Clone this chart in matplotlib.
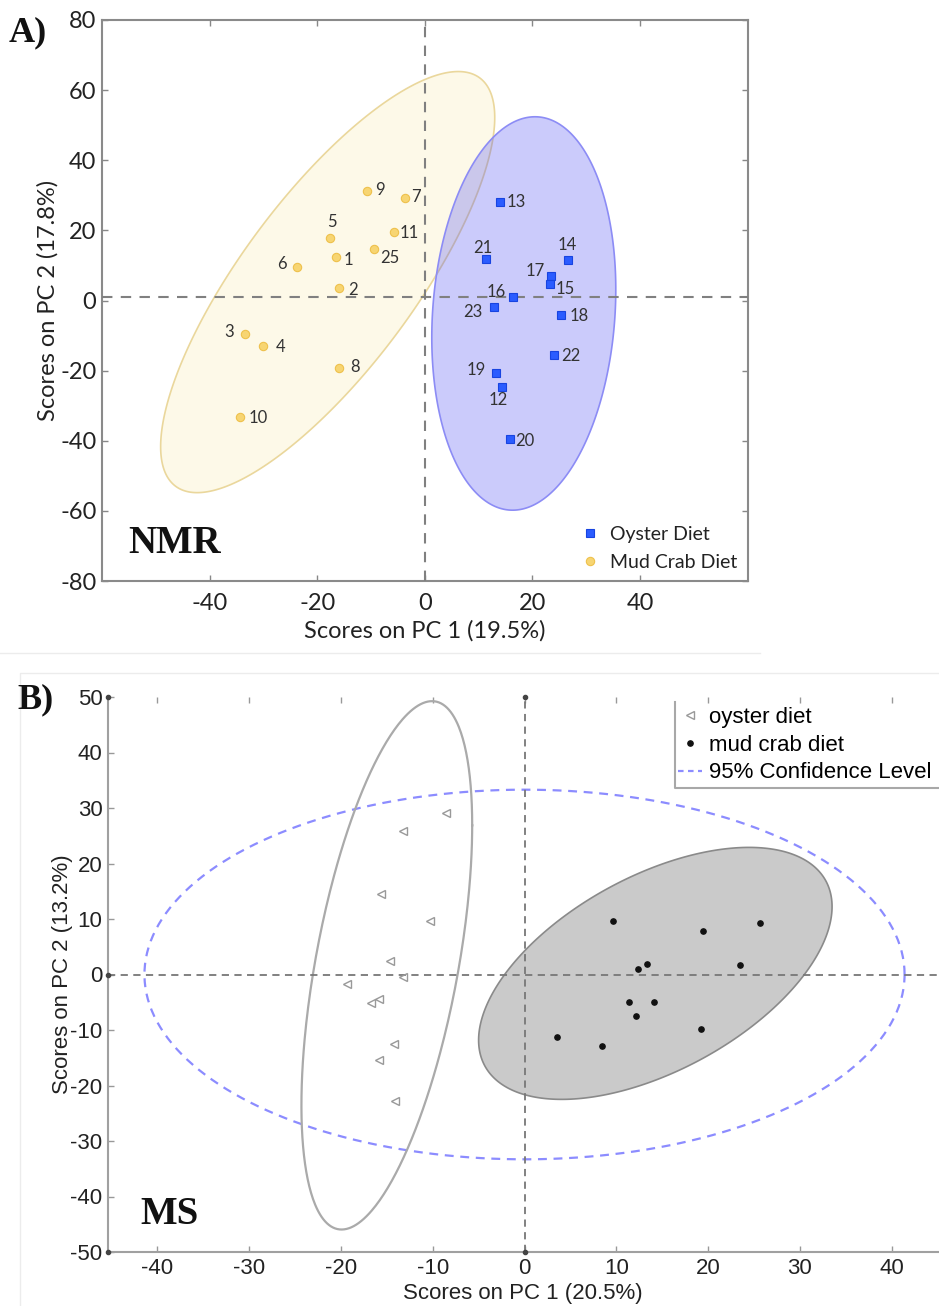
import numpy as np
import matplotlib
matplotlib.use('Agg')
import matplotlib.pyplot as plt
from matplotlib.lines import Line2D

plt.rcParams['axes.unicode_minus'] = False

# ---------------- Panel A (NMR) data ----------------
mud_ids = ['9', '7', '5', '11', '25', '1', '6', '2', '3', '4', '8', '10']
mud_x = [-10.8, -3.7, -17.7, -5.8, -9.4, -16.5, -23.7, -16.0, -33.4, -30.0, -15.9, -34.3]
mud_y = [31.2, 29.2, 17.9, 19.6, 14.7, 12.5, 9.6, 3.7, -9.6, -13.0, -19.3, -33.1]

oys_ids = ['13', '21', '14', '17', '15', '16', '23', '18', '22', '19', '12', '20']
oys_x = [14.0, 11.3, 26.7, 23.4, 23.2, 16.4, 12.8, 25.4, 24.0, 13.3, 14.3, 15.8]
oys_y = [28.0, 11.8, 11.5, 7.0, 4.7, 1.0, -1.9, -4.1, -15.6, -20.7, -24.7, -39.4]

# ellipse: centre x, centre y, x half-range, y half-range, phase (deg)
nmr_mud_ell = [-18.05, 5.25, 31.05, 60.05, 38.6]
nmr_oys_ell = [18.4, -3.7, 17.1, 56.1, 83.0]

nmr_xticks = [-40, -20, 0, 20, 40]
nmr_yticks = [-80, -60, -40, -20, 0, 20, 40, 60, 80]

# ---------------- Panel B (MS) data ----------------
ms_oys_x = [-8.5, -13.2, -15.6, -10.3, -14.7, -13.2, -19.3, -15.9, -16.7, -14.2, -15.8, -14.1]
ms_oys_y = [29.1, 25.9, 14.5, 9.6, 2.5, -0.5, -1.8, -4.4, -5.1, -12.5, -15.4, -22.8]
ms_mud_x = [9.6, 19.4, 25.7, 13.3, 12.4, 23.5, 11.4, 14.1, 12.1, 19.2, 3.5, 8.4]
ms_mud_y = [9.7, 7.8, 9.2, 1.9, 1.0, 1.7, -5.0, -5.0, -7.4, -9.8, -11.3, -12.8]

ms_oys_ell = [-15.0, 1.65, 9.3, 47.6, 58.0]
ms_mud_ell = [14.25, 0.2, 19.25, 22.7, 58.0]
ms_conf_ell = [0.0, 0.0, 41.4, 33.3, 90.0]

ms_xticks = [-40, -30, -20, -10, 0, 10, 20, 30, 40]
ms_yticks = [-50, -40, -30, -20, -10, 0, 10, 20, 30, 40, 50]

# label offsets in pixels (dx right, dy down) -- styling only
mud_off = {'9': (13, -1), '7': (11, -1), '5': (2, -16), '11': (16, 1), '25': (16, 9),
           '1': (12, 3), '6': (-15, -3), '2': (14, 2), '3': (-16, -2), '4': (17, 1),
           '8': (16, -1), '10': (18, 1)}
oys_off = {'13': (16, 0), '21': (-3, -11), '14': (-1, -15), '17': (-15, -5), '15': (16, 5),
           '16': (-17, -5), '23': (-21, 5), '18': (18, 1), '22': (17, 1), '19': (-20, -3),
           '12': (-4, 13), '20': (15, 2)}


def ellipse_xy(p, n=400):
    cx, cy, rx, ry, ph = p
    t = np.linspace(0, 2 * np.pi, n)
    return cx + rx * np.cos(t), cy + ry * np.cos(t - np.deg2rad(ph))


W, H = 939, 1306
fig = plt.figure(figsize=(W / 100, H / 100), dpi=100)

fontA = 'Lato'
fontB = 'Liberation Sans'

# ================= Panel A =================
axA = fig.add_axes([102 / W, 1 - 581 / H, 645.6 / W, 561 / H])
ex, ey = ellipse_xy(nmr_mud_ell)
axA.fill(ex, ey, facecolor='#fdf9e8', edgecolor='#ead79c', lw=1.2, zorder=1)
ex, ey = ellipse_xy(nmr_oys_ell)
axA.fill(ex, ey, facecolor=(0.33, 0.33, 0.95, 0.30), edgecolor='#8c8cf5', lw=1.2, zorder=2)

axA.axhline(1.0, color='#808080', lw=1.5, ls=(0, (5, 4)), zorder=3)
axA.axvline(0.0, color='#808080', lw=1.5, ls=(0, (5, 4)), zorder=3)

hA1, = axA.plot(oys_x, oys_y, ls='none', marker='s', ms=5.5, mfc='#2b5cff', mec='#1844e0',
                mew=0.8, zorder=5, label='Oyster Diet')
hA2, = axA.plot(mud_x, mud_y, ls='none', marker='o', ms=6, mfc='#f7d572', mec='#eec14c',
                mew=0.8, zorder=5, label='Mud Crab Diet')

for i, (x, y) in enumerate(zip(mud_x, mud_y)):
    dx, dy = mud_off[mud_ids[i]]
    axA.annotate(mud_ids[i], (x, y), xytext=(dx, -dy), textcoords='offset pixels',
                 ha='center', va='center', fontsize=12, color='#333333',
                 family=fontA, zorder=6)
for i, (x, y) in enumerate(zip(oys_x, oys_y)):
    dx, dy = oys_off[oys_ids[i]]
    axA.annotate(oys_ids[i], (x, y), xytext=(dx, -dy), textcoords='offset pixels',
                 ha='center', va='center', fontsize=12, color='#333333',
                 family=fontA, zorder=6)

axA.set_xlim(-60, 60)
axA.set_ylim(-80, 80)
axA.set_xticks(nmr_xticks)
axA.set_yticks(nmr_yticks)
axA.tick_params(direction='in', length=4, width=1, color='#888888', top=True, right=True,
                labelsize=17)
axA.tick_params(axis='x', pad=9)
axA.tick_params(axis='y', pad=4)
for lab in axA.get_xticklabels() + axA.get_yticklabels():
    lab.set_family(fontA)
    lab.set_color('#222222')
for s in axA.spines.values():
    s.set_color('#8a8a8a')
    s.set_linewidth(1.5)
axA.set_xlabel('Scores on PC 1 (19.5%)', fontsize=17, family=fontA, color='#222222', labelpad=4)
axA.set_ylabel('Scores on PC 2 (17.8%)', fontsize=17, family=fontA, color='#222222', labelpad=1)

legA = fig.legend(handles=[hA1, hA2], loc='upper left',
                  bbox_to_anchor=(580 / W, 1 - 526 / H), frameon=False,
                  prop={'family': fontA, 'size': 14}, handlelength=1.0, handletextpad=0.53,
                  labelspacing=0.55, borderaxespad=0, borderpad=0)
for t in legA.get_texts():
    t.set_color('#222222')

axA.text(0.040, 0.066, 'NMR', transform=axA.transAxes, fontsize=28, fontweight='bold',
         family='Liberation Serif', ha='left', va='center', color='#111111')
fig.text(9 / W, 1 - 33 / H, 'A)', fontsize=26, fontweight='bold', family='Liberation Serif',
         ha='left', va='center', color='#111111')

# separator / frame lines
fig.add_artist(Line2D([0, 760 / W], [1 - 653 / H, 1 - 653 / H], color='#ececec', lw=1))
fig.add_artist(Line2D([20 / W, 20 / W, 1.0], [0, 1 - 673 / H, 1 - 673 / H], color='#ececec', lw=1))

# ================= Panel B =================
axB = fig.add_axes([108 / W, 1 - 1252 / H, 830 / W, 555 / H])
xl = (-45.37, 45.04)
ex, ey = ellipse_xy(ms_conf_ell)
axB.plot(ex, ey, color='#8c8cff', lw=1.6, ls=(0, (4, 3)), zorder=2)
ex, ey = ellipse_xy(ms_mud_ell)
axB.fill(ex, ey, facecolor='#cacaca', edgecolor='#8a8a8a', lw=1.2, zorder=1)
ex, ey = ellipse_xy(ms_oys_ell)
axB.plot(ex, ey, color='#aaaaaa', lw=1.6, zorder=2)

axB.plot([0, 0], [-50, 50], color='#777777', lw=1.3, ls=(0, (4, 3)), zorder=3)
axB.plot([xl[0], xl[1]], [0, 0], color='#777777', lw=1.3, ls=(0, (4, 3)), zorder=3)
axB.plot([0, 0, xl[0], xl[0], xl[0]], [50, -50, 0, 50, -50], ls='none', marker='o', ms=3,
         color='#444444', zorder=4, clip_on=False)

h1, = axB.plot(ms_oys_x, ms_oys_y, ls='none', marker='<', ms=6, mfc='none', mec='#999999',
               mew=1.0, zorder=5, label='oyster diet')
h2, = axB.plot(ms_mud_x, ms_mud_y, ls='none', marker='o', ms=3.8, color='#111111',
               zorder=5, label='mud crab diet')
h3 = Line2D([], [], color='#8c8cff', lw=1.6, ls=(0, (2.5, 2)), label='95% Confidence Level')

axB.set_xlim(*xl)
axB.set_ylim(-50, 50)
axB.set_xticks(ms_xticks)
axB.set_yticks(ms_yticks)
axB.tick_params(direction='in', length=4, width=1, color='#999999', top=True,
                labelsize=16, pad=4)
for lab in axB.get_xticklabels() + axB.get_yticklabels():
    lab.set_family(fontB)
    lab.set_color('#222222')
for k in ['top', 'right']:
    axB.spines[k].set_visible(False)
for k in ['left', 'bottom']:
    axB.spines[k].set_color('#a0a0a0')
    axB.spines[k].set_linewidth(1.5)
axB.set_xlabel('Scores on PC 1 (20.5%)', fontsize=16, family=fontB, color='#222222', labelpad=3)
axB.set_ylabel('Scores on PC 2 (13.2%)', fontsize=16, family=fontB, color='#222222', labelpad=-2)

legB = fig.legend(handles=[h1, h2, h3], loc='upper left',
                  bbox_to_anchor=(678 / W, 1 - 707 / H), frameon=False,
                  prop={'family': fontB, 'size': 16}, handlelength=1.1, handletextpad=0.3,
                  labelspacing=0.3, borderaxespad=0, borderpad=0)
fig.add_artist(Line2D([675 / W, 675 / W, 1.0], [1 - 702 / H, 1 - 788 / H, 1 - 788 / H],
                      color='#a8a8a8', lw=1.5))

axB.text(0.0386, 0.067, 'MS', transform=axB.transAxes, fontsize=28, fontweight='bold',
         family='Liberation Serif', ha='left', va='center', color='#111111')
fig.text(17 / W, 1 - 700 / H, 'B)', fontsize=26, fontweight='bold', family='Liberation Serif',
         ha='left', va='center', color='#111111')

fig.savefig('out.png', dpi=100, facecolor='white')
